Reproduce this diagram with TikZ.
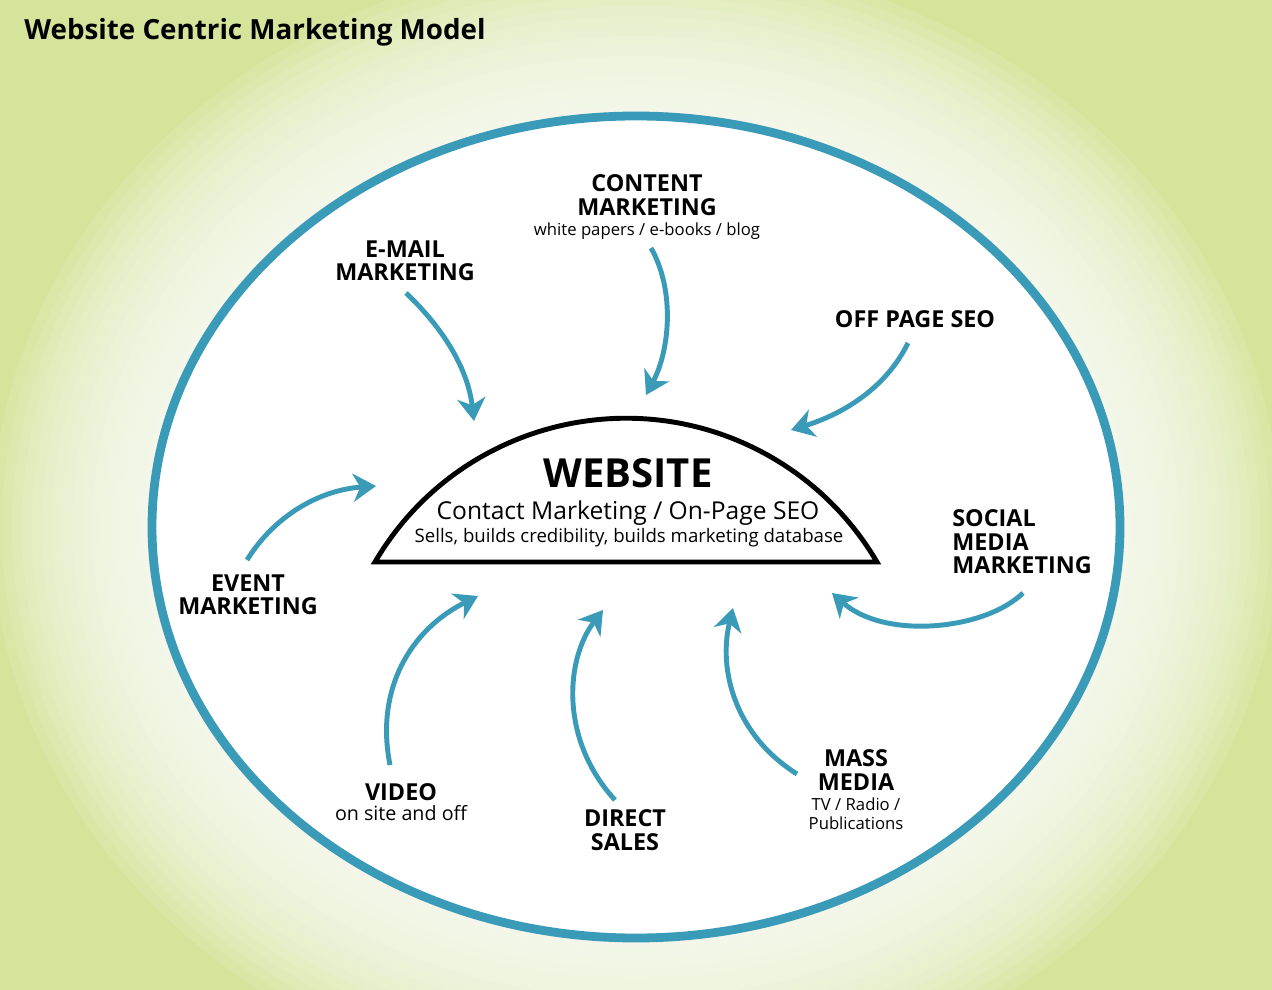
\documentclass[tikz,border=0pt]{standalone}
\usepackage{fontspec}
\setmainfont{Open Sans}
\usetikzlibrary{arrows.meta}
\definecolor{bgGreen}{RGB}{212,229,155}
\definecolor{ringBlue}{RGB}{58,155,184}
\tikzstyle{myLabel} = [align=center, inner sep=0pt, font=\bfseries\fontsize{13.3}{13.3}\selectfont]
\tikzstyle{myArrow} = [draw=ringBlue, line width=2.8pt, -{Stealth[length=13pt,width=16pt,inset=4pt]}]
\tikzstyle{myRing} = [draw=ringBlue, line width=5pt, fill=white]
\tikzstyle{myDome} = [draw=black, line width=2.8pt, fill=white]
\newcommand{\subText}{\fontsize{9.5}{11}\mdseries\selectfont}

\begin{document}
\begin{tikzpicture}[x=0.02cm, y=-0.02cm]
	% background glow and outer ring
	\fill[bgGreen] (0,0) rectangle (1272,990);
	\useasboundingbox (0,0) rectangle (1272,990);
	\foreach \k in {0,...,15}
		\fill[white, opacity=0.1] (636,527) ellipse [x radius={484+(16-\k)*10}, y radius={411+(16-\k)*10}];
	\draw[myRing] (636,527) ellipse [x radius=484, y radius=411];
	\node[anchor=base west, inner sep=0pt, font=\bfseries\fontsize{15.8}{17}\selectfont] (title) at (24,40) {Website Centric Marketing Model};

	% the website dome
	\draw[myDome] (375,562) arc[start angle=210.4, end angle=329.6, radius=291] -- cycle;
	\node[anchor=base, inner sep=0pt, font=\bfseries\fontsize{22.8}{24}\selectfont] (webTitle) at (628,487) {WEBSITE};
	\node[anchor=base, inner sep=0pt, font=\fontsize{14}{15}\selectfont] (webSub) at (628,519) {Contact Marketing / On-Page SEO};
	\node[anchor=base, inner sep=0pt, font=\fontsize{10.6}{12}\selectfont] (webNote) at (629,542) {Sells, builds credibility, builds marketing database};

	% channels
	\node[myLabel] (content) at (647,207) {CONTENT\\MARKETING\\[-2pt]{\subText white papers / e-books / blog}};
	\node[myLabel] (email) at (405,261) {E-MAIL\\MARKETING};
	\node[myLabel] (offPage) at (915,319) {OFF PAGE SEO};
	\node[myLabel, align=left, anchor=west] (social) at (952,542) {SOCIAL\\MEDIA\\MARKETING};
	\node[myLabel] (event) at (248,595) {EVENT\\MARKETING};
	\node[myLabel] (video) at (401,802) {VIDEO\\[-2pt]{\fontsize{11.2}{12}\mdseries\selectfont on site and off}};
	\node[myLabel] (direct) at (625,830) {DIRECT\\SALES};
	\node[myLabel] (mass) at (856,790) {MASS\\MEDIA\\[-2pt]{\subText TV / Radio /}\\[-2pt]{\subText Publications}};

	% arrow ends
	\coordinate (emailFrom) at (406,293);
	\coordinate (emailTo) at (474,421);
	\coordinate (contentFrom) at (651,248);
	\coordinate (contentTo) at (646,395);
	\coordinate (offPageFrom) at (908,343);
	\coordinate (offPageTo) at (791,430);
	\coordinate (socialFrom) at (1023,593);
	\coordinate (socialTo) at (832,593);
	\coordinate (massFrom) at (797,774);
	\coordinate (massTo) at (733,608);
	\coordinate (directFrom) at (615,800);
	\coordinate (directTo) at (603,610);
	\coordinate (videoFrom) at (390,765);
	\coordinate (videoTo) at (478,596);
	\coordinate (eventFrom) at (247,560);
	\coordinate (eventTo) at (376,486);

	\draw[myArrow] (emailFrom) .. controls (445,330) and (468,370) .. (emailTo);
	\draw[myArrow] (contentFrom) .. controls (675,290) and (670,350) .. (contentTo);
	\draw[myArrow] (offPageFrom) .. controls (885,390) and (840,415) .. (offPageTo);
	\draw[myArrow] (socialFrom) .. controls (985,630) and (885,640) .. (socialTo);
	\draw[myArrow] (massFrom) .. controls (735,735) and (718,670) .. (massTo);
	\draw[myArrow] (directFrom) .. controls (560,740) and (565,660) .. (directTo);
	\draw[myArrow] (videoFrom) .. controls (375,690) and (410,630) .. (videoTo);
	\draw[myArrow] (eventFrom) .. controls (275,515) and (320,490) .. (eventTo);
\end{tikzpicture}
\end{document}
